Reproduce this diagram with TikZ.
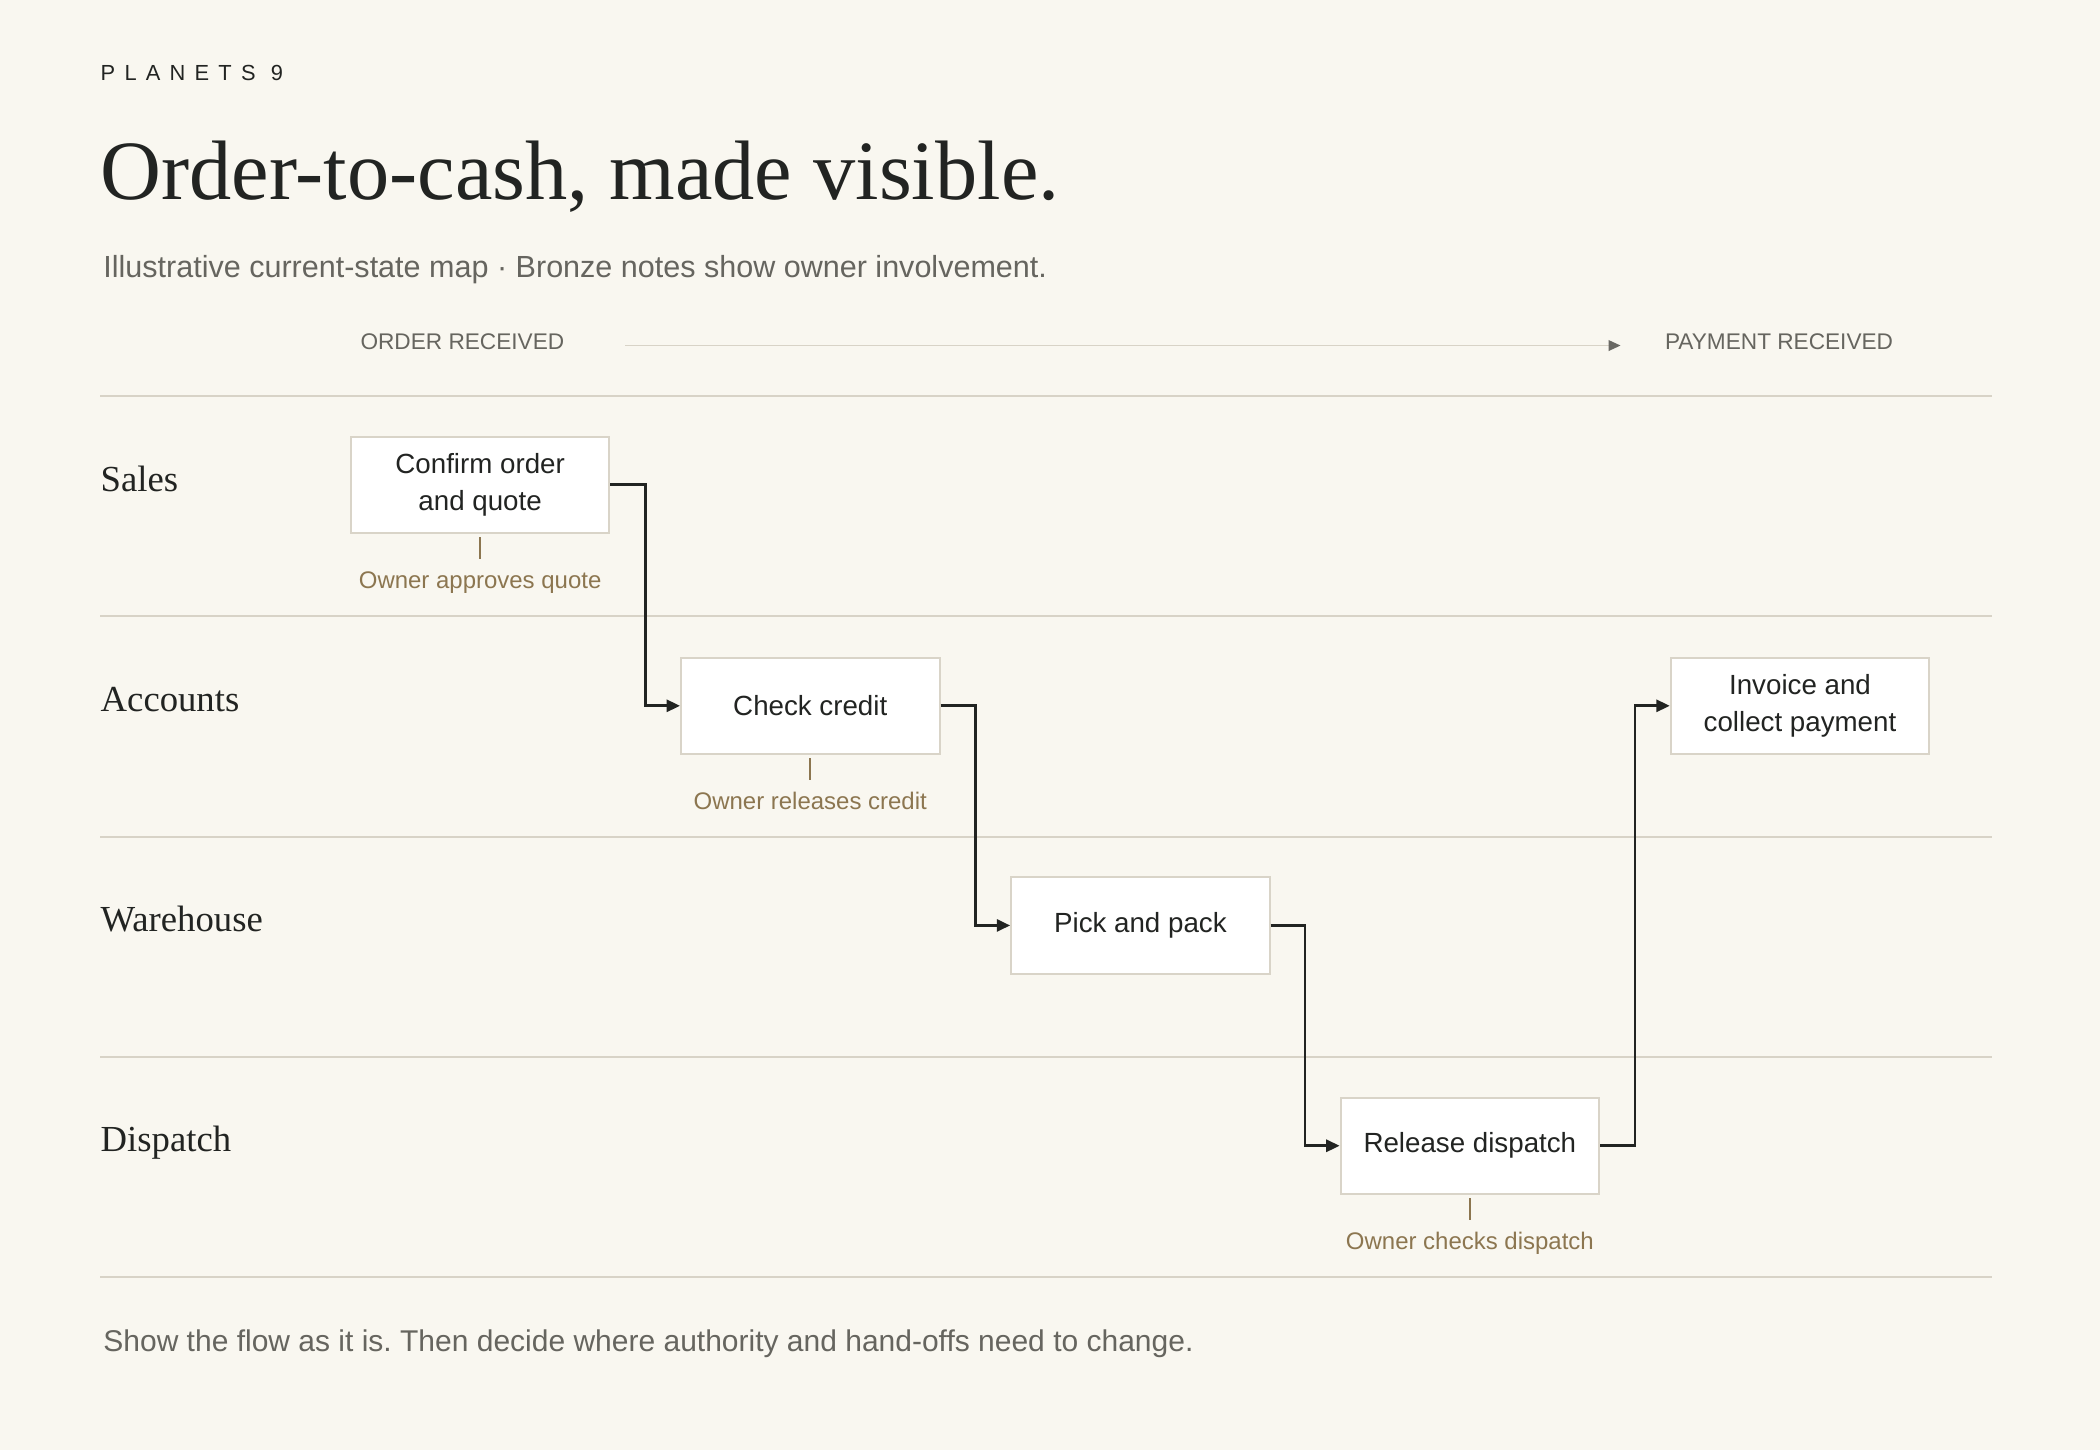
\documentclass[tikz,border=0pt]{standalone}
\usepackage{fontspec}
\setmainfont{Liberation Serif}
\newfontfamily\sansf{Liberation Sans}
\usetikzlibrary{arrows.meta,calc}
\definecolor{bg}{HTML}{F9F7F0}
\definecolor{rule}{HTML}{D8D3C7}
\definecolor{ink}{HTML}{222422}
\definecolor{muted}{HTML}{66655F}
\definecolor{bronze}{HTML}{8C7650}
\definecolor{boxline}{HTML}{D9D4C8}
\definecolor{tipgray}{HTML}{6A6964}
\tikzset{
  stepbox/.style={draw=boxline, line width=1.5pt, fill=white, minimum width=193pt, minimum height=72pt, inner sep=0pt, align=center, text=ink, font=\sansf\fontsize{20.7}{27}\selectfont},
  lane/.style={anchor=base west, inner sep=0pt, text=ink, font=\fontsize{27.4}{30}\selectfont},
  lanerule/.style={draw=rule, line width=1.5pt},
  flow/.style={draw=ink, line width=2pt, -{Triangle[length=10pt,width=9pt]}},
  tick/.style={draw=bronze, line width=1.2pt},
  note/.style={anchor=base, inner sep=0pt, text=bronze, font=\sansf\fontsize{17.9}{20}\selectfont},
  milestone/.style={inner sep=0pt, text=muted, font=\sansf\fontsize{16.9}{20}\selectfont},
}
\frenchspacing
\begin{document}
\frenchspacing
\begin{tikzpicture}[x=1pt,y=-1pt]
\fill[bg] (0,0) rectangle (1568,1083);
\useasboundingbox (0,0) rectangle (1568,1083);

% header
\node[anchor=base west, inner sep=0pt, text=ink, font=\sansf\fontsize{16.3}{20}\selectfont] (brand) at (75,60)
  {P\kern6.9pt L\kern6.9pt A\kern6.9pt N\kern6.9pt E\kern6.9pt T\kern6.9pt S\kern6.9pt\ \kern0pt9};
\node[anchor=base west, inner sep=0pt, text=ink, font=\fontsize{63}{70}\selectfont] (title) at (75,149)
  {Order-to-cash, made visible.};
\node[anchor=base west, inner sep=0pt, text=muted, font=\sansf\fontsize{22.8}{26}\selectfont] (subtitle) at (77,207)
  {Illustrative current-state map · Bronze notes show owner involvement.};

% milestones
\node[milestone, anchor=base west] (start) at (269,261) {ORDER RECEIVED};
\node[milestone, anchor=base west] (end) at (1243,261) {PAYMENT RECEIVED};
\coordinate (ms1) at (467,258);
\coordinate (ms2) at (1210,258);
\draw[draw=rule, line width=1.2pt, -{Triangle[length=9pt,width=8pt,color=tipgray]}] (ms1) -- (ms2);

% lane rules
\foreach \i/\y in {r0/296,r1/460.3,r2/624.6,r3/788.9,r4/953.2}{
  \coordinate (\i a) at (75,\y);
  \coordinate (\i b) at (1487,\y);
  \draw[lanerule] (\i a) -- (\i b);
}

% lane labels
\node[lane] (sales) at (75,367) {Sales};
\node[lane] (accounts) at (75,531.5) {Accounts};
\node[lane] (warehouse) at (75,695.8) {Warehouse};
\node[lane] (dispatch) at (75,860) {Dispatch};

% steps
\node[stepbox] (confirm) at (358.5,362) {Confirm order\\and quote};
\node[stepbox] (credit) at (605,527) {Check credit};
\node[stepbox] (pick) at (851.5,691) {Pick and pack};
\node[stepbox] (release) at (1097.5,855.5) {Release dispatch};
\node[stepbox] (invoice) at (1344,527) {Invoice and\\collect payment};

% flows
\draw[flow] (confirm.east) -| ($(confirm.east)!.5!(credit.west)$) |- (credit.west);
\draw[flow] (credit.east) -| ($(credit.east)!.5!(pick.west)$) |- (pick.west);
\draw[flow] (pick.east) -| ($(pick.east)!.5!(release.west)$) |- (release.west);
\draw[flow] (release.east) -| ($(release.east)!.5!(invoice.west)$) |- (invoice.west);

% owner notes
\draw[tick] ($(confirm.south)+(0,2.5)$) -- ++(0,16);
\node[note] (n1) at ($(confirm.south)+(0,41)$) {Owner approves quote};
\draw[tick] ($(credit.south)+(0,2.5)$) -- ++(0,16);
\node[note] (n2) at ($(credit.south)+(0,41)$) {Owner releases credit};
\draw[tick] ($(release.south)+(0,2.5)$) -- ++(0,16);
\node[note] (n3) at ($(release.south)+(0,41)$) {Owner checks dispatch};

% footer
\node[anchor=base west, inner sep=0pt, text=muted, font=\sansf\fontsize{22.4}{26}\selectfont] (footer) at (77,1009)
  {Show the flow as it is. Then decide where authority and hand-offs need to change.};
\end{tikzpicture}
\end{document}
